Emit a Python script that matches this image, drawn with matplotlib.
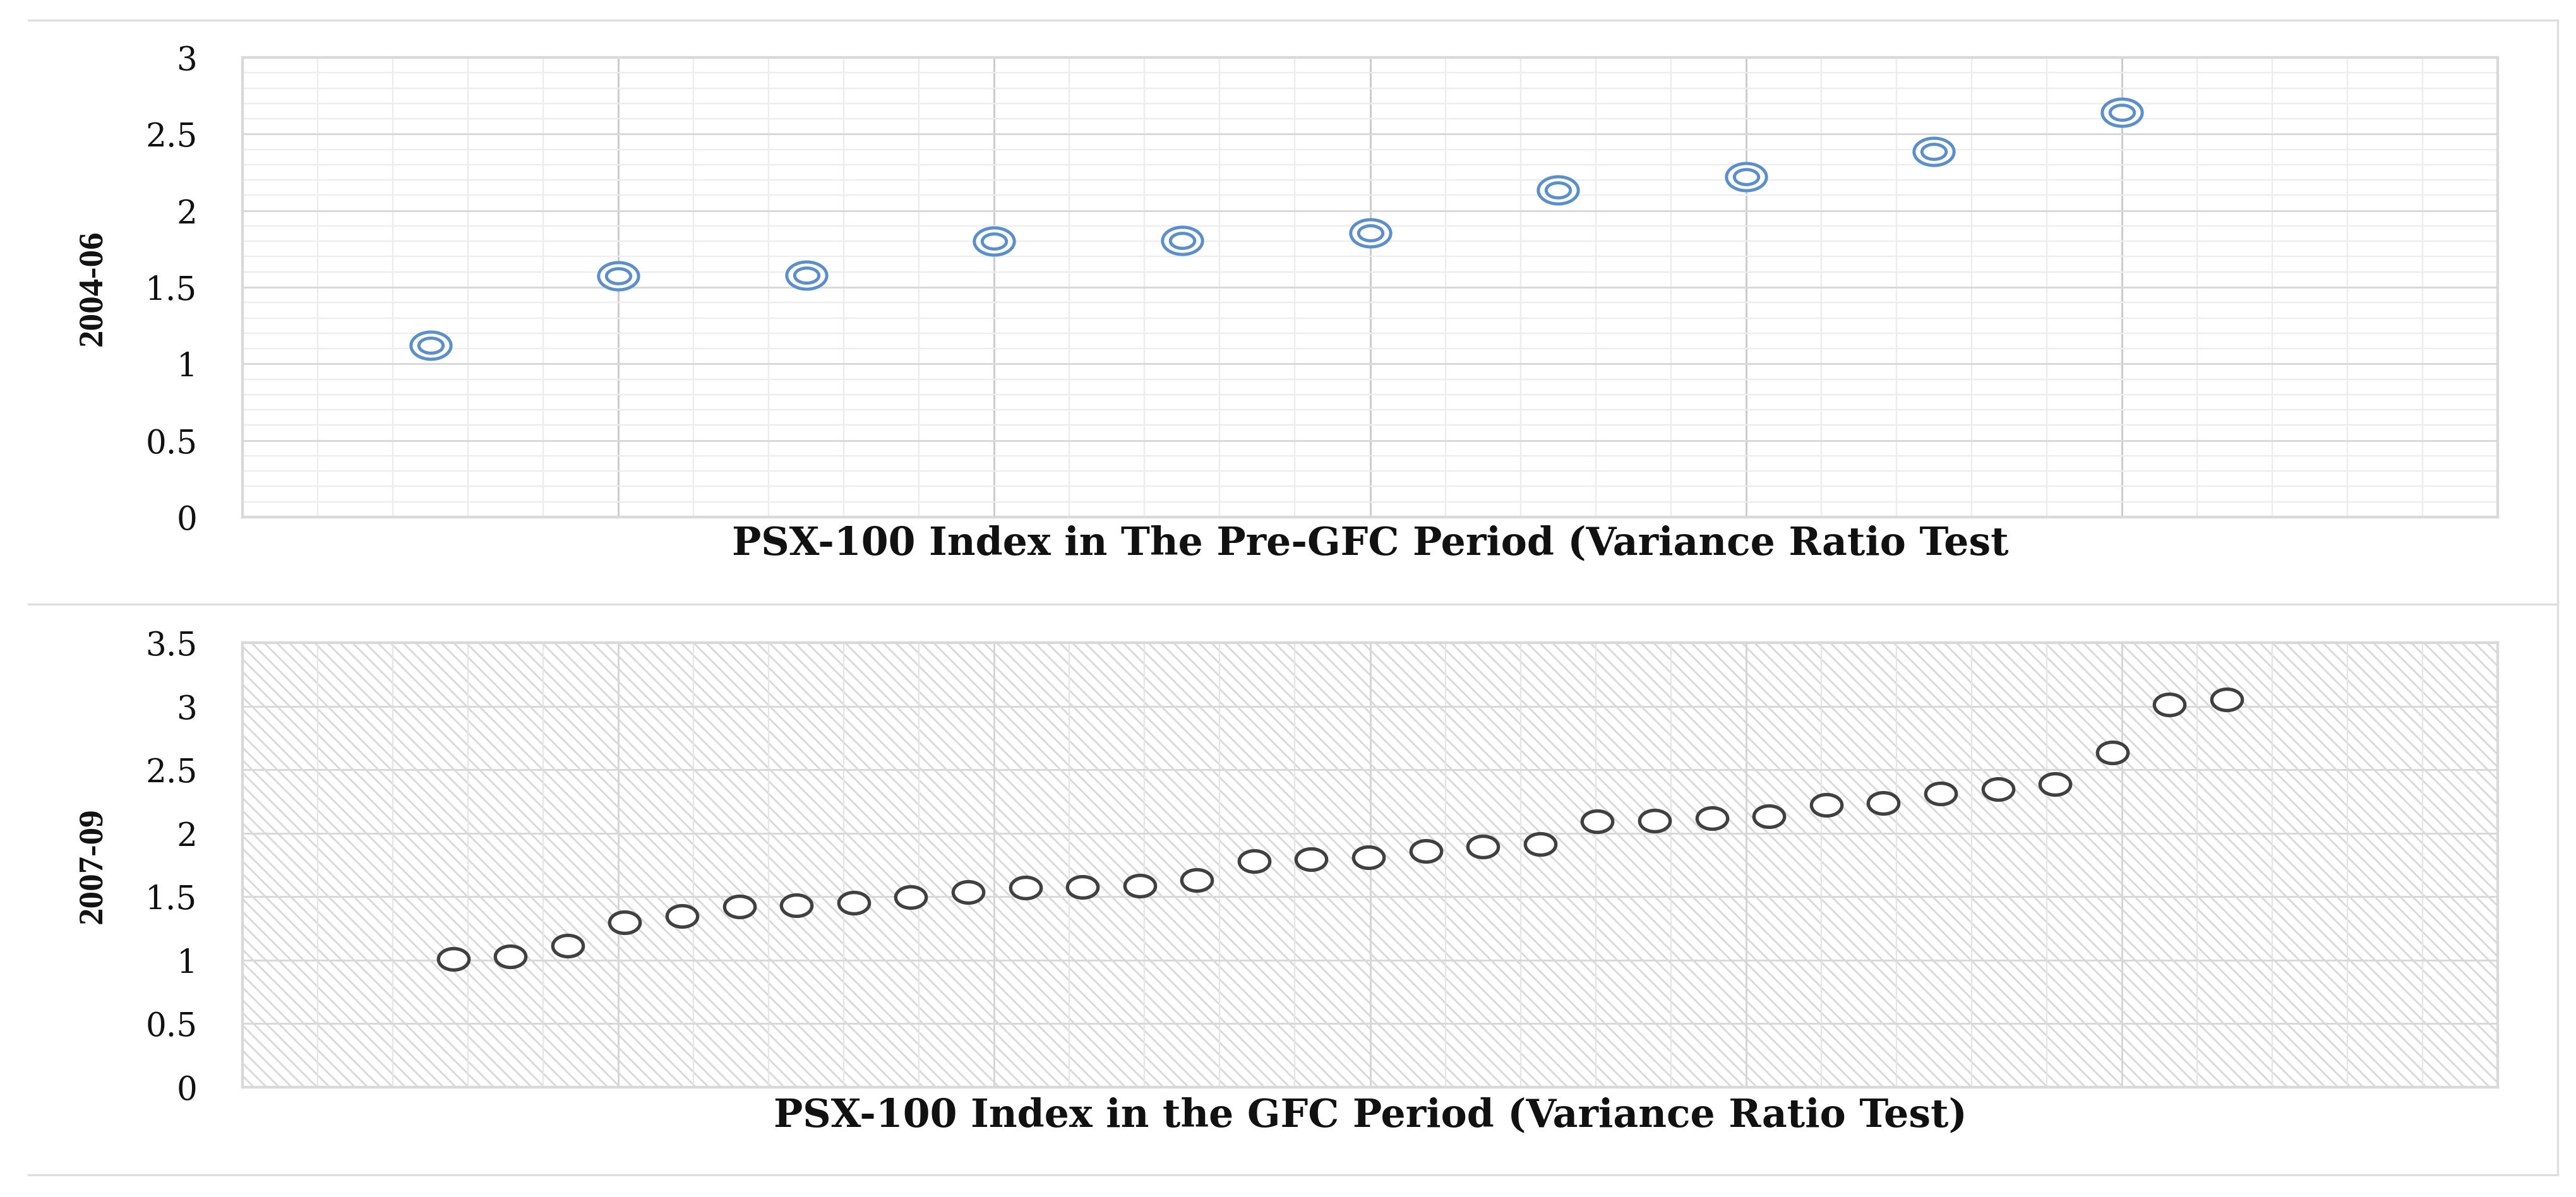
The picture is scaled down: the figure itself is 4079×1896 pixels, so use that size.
import numpy as np
import matplotlib
matplotlib.use("Agg")
import matplotlib.pyplot as plt
from matplotlib.path import Path
from matplotlib.patches import Rectangle
from matplotlib.lines import Line2D
from matplotlib.ticker import MultipleLocator, FuncFormatter

# ---------------- data ----------------
pre_gfc_x = [1, 2, 3, 4, 5, 6, 7, 8, 9, 10]
pre_gfc_vr = [1.12, 1.575, 1.58, 1.80, 1.805, 1.855, 2.135, 2.22, 2.385, 2.64]

gfc_idx = list(range(1, 33))
gfc_vr = [1.01, 1.03, 1.115, 1.30, 1.345, 1.42, 1.43, 1.45, 1.495, 1.535,
          1.57, 1.575, 1.585, 1.63, 1.78, 1.795, 1.81, 1.86, 1.895, 1.915,
          2.095, 2.10, 2.12, 2.135, 2.22, 2.235, 2.31, 2.345, 2.385, 2.635,
          3.015, 3.055]

top_ylabel = "2004-06"
bottom_ylabel = "2007-09"
top_xlabel = "PSX-100 Index in The Pre-GFC Period (Variance Ratio Test"
bottom_xlabel = "PSX-100 Index in the GFC Period (Variance Ratio Test)"

# ---------------- figure ----------------
W, H, DPI = 4079, 1896, 120
fig = plt.figure(figsize=(W / DPI, H / DPI), dpi=DPI)
fig.patch.set_facecolor("white")
plt.rcParams["hatch.linewidth"] = 1.7


def fx(px):
    return px / W


def fy(py):
    return 1 - py / H


ax_left, ax_right = 384, 3955
ax_t = fig.add_axes([fx(ax_left), fy(819), fx(ax_right - ax_left), (819 - 91) / H])
ax_b = fig.add_axes([fx(ax_left), fy(1722), fx(ax_right - ax_left), (1722 - 1018) / H])

fmt = FuncFormatter(lambda v, p: "{:g}".format(round(v, 2)))

# ellipse marker (reference markers are horizontally stretched)
t = np.linspace(0, 2 * np.pi, 120)


def ellipse(ratio):
    return Path(np.column_stack([np.cos(t), ratio * np.sin(t)]), closed=True)


for ax, ymax in ((ax_t, 3.0), (ax_b, 3.5)):
    ax.set_xlim(0, 12)
    ax.set_ylim(0, ymax)
    ax.xaxis.set_major_locator(MultipleLocator(2))
    ax.xaxis.set_minor_locator(MultipleLocator(0.4))
    ax.yaxis.set_major_locator(MultipleLocator(0.5))
    ax.yaxis.set_major_formatter(fmt)
    ax.set_axisbelow(True)
    ax.tick_params(axis="both", which="both", length=0)
    ax.tick_params(axis="x", which="both", labelbottom=False)
    ax.tick_params(axis="y", pad=43, labelsize=31, labelcolor="#111111")
    for lab in ax.get_yticklabels():
        lab.set_fontfamily("DejaVu Serif")
    for sp in ax.spines.values():
        sp.set_color("#d9d9d9")
        sp.set_linewidth(2.6)
    ax.grid(which="major", axis="y", color="#d9d9d9", linewidth=1.8)
    ax.grid(which="major", axis="x", color="#cccccc", linewidth=1.8)
    ax.grid(which="minor", axis="x", color="#ececec", linewidth=1.4)

# top panel: minor horizontal gridlines
ax_t.yaxis.set_minor_locator(MultipleLocator(0.1))
ax_t.grid(which="minor", axis="y", color="#ededed", linewidth=1.4)

# bottom panel: hatched background
ax_b.add_patch(Rectangle((0, 0), 1, 1, transform=ax_b.transAxes, facecolor="white",
                         edgecolor="#d9d9d9", hatch="\\\\", linewidth=0, zorder=0.2))
ax_b.grid(which="major", axis="x", color="#d6d6d6", linewidth=1.8)
ax_b.grid(which="minor", axis="x", color="#e6e6e6", linewidth=1.4)

# top scatter: double-ring blue markers
blue = "#5b8fcb"
ax_t.plot(pre_gfc_x, pre_gfc_vr, linestyle="none", marker=ellipse(0.68), markersize=38,
          markerfacecolor="white", markeredgecolor=blue, markeredgewidth=3.0, zorder=4)
ax_t.plot(pre_gfc_x, pre_gfc_vr, linestyle="none", marker=ellipse(0.62), markersize=23,
          markerfacecolor="white", markeredgecolor=blue, markeredgewidth=3.0, zorder=5)

# bottom scatter on an index axis laid over the grid
ax_b2 = ax_b.twiny()
ax_b2.set_xlim(-2.683, 36.737)
ax_b2.set_axis_off()
ax_b2.plot(gfc_idx, gfc_vr, linestyle="none", marker=ellipse(0.7), markersize=29,
           markerfacecolor="white", markeredgecolor="#404040", markeredgewidth=3.2, zorder=4)

# axis titles
fig.text(fx(147), fy(456), top_ylabel, rotation=90, ha="center", va="center",
         fontsize=33, fontweight="bold", family="Liberation Serif", color="#111111")
fig.text(fx(147), fy(1371), bottom_ylabel, rotation=90, ha="center", va="center",
         fontsize=33, fontweight="bold", family="Liberation Serif", color="#111111")
fig.text(fx(2170), fy(878), top_xlabel, ha="center", va="baseline",
         fontsize=37, fontweight="bold", family="DejaVu Serif", color="#111111")
fig.text(fx(2170), fy(1784), bottom_xlabel, ha="center", va="baseline",
         fontsize=37, fontweight="bold", family="DejaVu Serif", color="#111111")

# chart-area border lines
bc = "#dedede"
for y in (32, 957, 1861):
    fig.add_artist(Line2D([fx(45), fx(4050)], [fy(y), fy(y)], transform=fig.transFigure,
                          color=bc, linewidth=2.0))
fig.add_artist(Line2D([fx(4050), fx(4050)], [fy(32), fy(1861)], transform=fig.transFigure,
                      color=bc, linewidth=2.0))

fig.savefig("out.png", dpi=DPI, facecolor="white")
